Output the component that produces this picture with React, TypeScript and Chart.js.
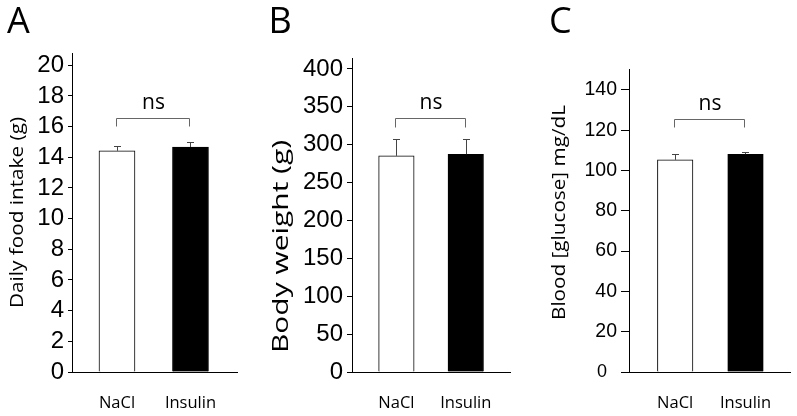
import React, { useEffect, useRef } from 'react';
import { Chart, registerables } from 'chart.js';

Chart.register(...registerables);

// ---------- data ----------
const categories = ['NaCl', 'Insulin'];
const sigLabel = 'ns';

const foodIntake = [14.42, 14.67];
const foodIntakeErr = [0.34, 0.3];
const foodTicks = [0, 2, 4, 6, 8, 10, 12, 14, 16, 18, 20];
const foodBracket = [16.56, 16.06];

const bodyWeight = [285.3, 287.5];
const bodyWeightErr = [22.1, 19.9];
const weightTicks = [0, 50, 100, 150, 200, 250, 300, 350, 400];
const weightBracket = [335.2, 324.0];

const glucose = [105.3, 108.1];
const glucoseErr = [2.8, 1.3];
const glucoseTicks = [0, 20, 40, 60, 80, 100, 120, 140];
const glucoseBracket = [125.5, 121.5];

// ---------- panels ----------
const panels = [
  {
    letter: 'A', letterX: 7,
    title: 'Daily food intake (g)', titleX: 17.5, titleY: 212.5, titleSize: 18, titleLen: 191,
    values: foodIntake, errors: foodIntakeErr, ticks: foodTicks, yMax: 20.8, bracket: foodBracket,
    axisX: 72, right: 237, top: 53, tickLen: 4, tickPad: 4, tickSize: 24, zeroSize: 24, zeroPad: '',
    barThickness: 36, xMin: -0.612, xMax: 1.633,
  },
  {
    letter: 'B', letterX: 268.5,
    title: 'Body weight (g)', titleX: 282, titleY: 246.5, titleSize: 21, titleLen: 213,
    values: bodyWeight, errors: bodyWeightErr, ticks: weightTicks, yMax: 414.5, bracket: weightBracket,
    axisX: 352, right: 510, top: 58, tickLen: 5, tickPad: 4, tickSize: 24, zeroSize: 24, zeroPad: '',
    barThickness: 35.5, xMin: -0.64, xMax: 1.638,
  },
  {
    letter: 'C', letterX: 549,
    title: 'Blood [glucose] mg/dL', titleX: 560, titleY: 212.5, titleSize: 18, titleLen: 215,
    values: glucose, errors: glucoseErr, ticks: glucoseTicks, yMax: 150.4, bracket: glucoseBracket,
    axisX: 629, right: 790, top: 69, tickLen: 8, tickPad: 4, tickSize: 19.5, zeroSize: 18, zeroPad: '  ',
    barThickness: 35.5, xMin: -0.657, xMax: 1.633,
  },
];

const W = 797;
const H = 416;
const BOTTOM = 372;
const Y_W = 60;
const X_H = 40;
const SANS = '"Open Sans", "Noto Sans", sans-serif';
const NUM = '"Liberation Sans", Arial, sans-serif';

function makePlugin(p: any) {
  return {
    id: 'annot' + p.letter,
    afterDatasetsDraw(chart: any) {
      const { ctx } = chart;
      const y = chart.scales.y;
      const meta = chart.getDatasetMeta(0);
      ctx.save();
      ctx.lineWidth = 1;
      ctx.strokeStyle = '#444';
      meta.data.forEach((el: any, i: number) => {
        const x = Math.round(el.x) + 0.5;
        const top = Math.round(y.getPixelForValue(p.values[i] + p.errors[i])) + 0.5;
        ctx.beginPath();
        ctx.moveTo(x, el.y);
        ctx.lineTo(x, top);
        ctx.moveTo(x - 3.5, top);
        ctx.lineTo(x + 3.5, top);
        ctx.stroke();
      });
      const x0 = Math.round(meta.data[0].x) - 0.5;
      const x1 = Math.round(meta.data[1].x) - 0.5;
      const by = Math.round(y.getPixelForValue(p.bracket[0])) + 0.5;
      const ly = Math.round(y.getPixelForValue(p.bracket[1])) + 0.5;
      ctx.strokeStyle = '#666';
      ctx.beginPath();
      ctx.moveTo(x0, ly);
      ctx.lineTo(x0, by);
      ctx.lineTo(x1, by);
      ctx.lineTo(x1, ly);
      ctx.stroke();
      ctx.fillStyle = '#000';
      ctx.font = '21px ' + SANS;
      ctx.textAlign = 'center';
      ctx.textBaseline = 'alphabetic';
      ctx.fillText(sigLabel, (x0 + x1) / 2 + 0.5, by - 10);
      ctx.restore();
    },
    afterDraw(chart: any) {
      const { ctx } = chart;
      ctx.save();
      ctx.fillStyle = '#000';
      ctx.font = '36px ' + SANS;
      ctx.textAlign = 'left';
      ctx.textBaseline = 'alphabetic';
      ctx.fillText(p.letter, p.letterX, 33);
      ctx.font = p.titleSize + 'px ' + SANS;
      const w = ctx.measureText(p.title).width;
      ctx.translate(p.titleX, p.titleY);
      ctx.rotate(-Math.PI / 2);
      ctx.scale(p.titleLen / w, 1);
      ctx.textAlign = 'center';
      ctx.textBaseline = 'middle';
      ctx.fillText(p.title, 0, 0);
      ctx.restore();
    },
  };
}

function Panel({ p }: { p: any }) {
  const ref = useRef<HTMLCanvasElement | null>(null);
  useEffect(() => {
    if (!ref.current) return;
    const chart = new Chart(ref.current, {
      type: 'bar',
      data: {
        datasets: [
          {
            data: p.values.map((v: number, i: number) => ({ x: i, y: v })),
            backgroundColor: ['#ffffff', '#000000'],
            borderColor: '#000000',
            borderWidth: 1,
            barThickness: p.barThickness,
          },
        ],
      },
      options: {
        responsive: false,
        animation: false,
        devicePixelRatio: 1,
        events: [],
        layout: {
          padding: { left: p.axisX - Y_W, right: W - p.right, top: p.top, bottom: H - BOTTOM - X_H },
        },
        plugins: { legend: { display: false }, tooltip: { enabled: false }, title: { display: false } },
        scales: {
          x: {
            type: 'linear',
            offset: false,
            min: p.xMin,
            max: p.xMax,
            afterBuildTicks: (s: any) => {
              s.ticks = categories.map((_, i) => ({ value: i }));
            },
            afterFit: (s: any) => {
              s.height = X_H;
            },
            grid: { display: false, drawTicks: false, offset: false },
            border: { display: true, color: '#000', width: 1 },
            ticks: {
              autoSkip: false,
              maxRotation: 0,
              padding: 21,
              color: '#000',
              font: { family: SANS, size: 16.5 },
              callback: (v: any) => categories[Math.round(Number(v))] ?? '',
            },
          },
          y: {
            type: 'linear',
            min: 0,
            max: p.yMax,
            afterBuildTicks: (s: any) => {
              s.ticks = p.ticks.map((v: number) => ({ value: v }));
            },
            afterFit: (s: any) => {
              s.width = Y_W;
            },
            grid: { display: true, drawOnChartArea: false, drawTicks: true, tickLength: p.tickLen, color: '#000', lineWidth: 1 },
            border: { display: true, color: '#000', width: 1 },
            ticks: {
              autoSkip: false,
              padding: p.tickPad,
              color: '#000',
              font: (c: any) => ({
                family: NUM,
                size: c.tick && c.tick.value === 0 ? p.zeroSize : p.tickSize,
              }),
              callback: (v: any) => (Number(v) === 0 ? '0' + p.zeroPad : String(v)),
            },
          },
        },
      },
      plugins: [makePlugin(p)],
    } as any);
    return () => chart.destroy();
  }, []);
  return (
    <canvas
      ref={ref}
      width={W}
      height={H}
      style={{ position: 'absolute', left: 0, top: 0, width: W, height: H }}
    />
  );
}

export default function App() {
  return (
    <div style={{ position: 'fixed', left: 0, top: 0, width: W, height: H, background: '#ffffff', overflow: 'hidden' }}>
      {panels.map((p) => (
        <Panel key={p.letter} p={p} />
      ))}
    </div>
  );
}
